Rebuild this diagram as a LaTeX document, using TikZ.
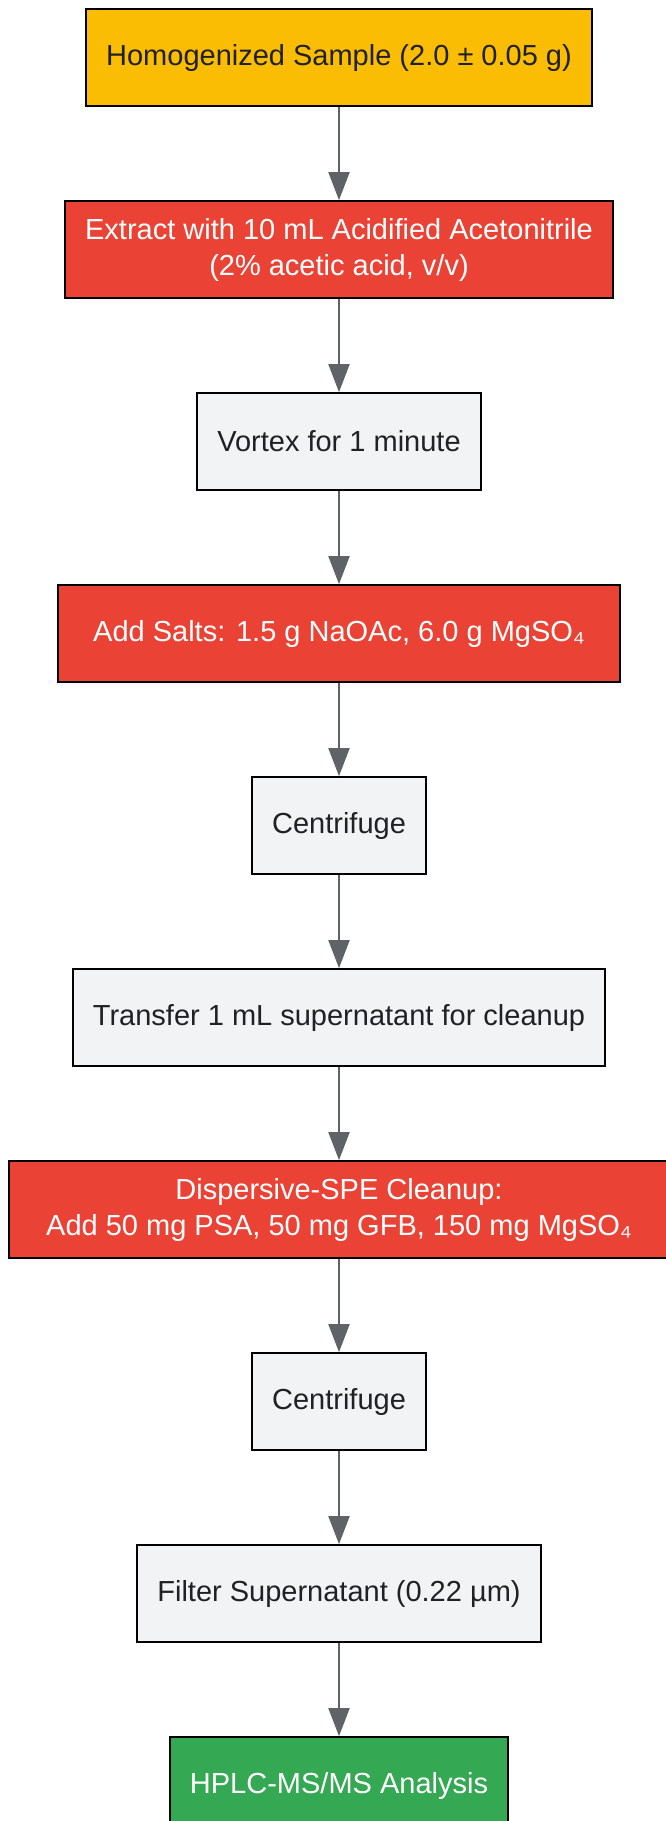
\documentclass[tikz,border=0pt]{standalone}
\usepackage{fontspec}
\setmainfont{Liberation Sans}
\usetikzlibrary{arrows.meta}
\usetikzlibrary{positioning}
\definecolor{stepyellow}{HTML}{FBBC04}
\definecolor{stepred}{HTML}{EA4335}
\definecolor{stepgreen}{HTML}{34A853}
\definecolor{stepgray}{HTML}{F1F3F4}
\definecolor{inkdark}{HTML}{202124}
\definecolor{flowgray}{HTML}{5F6368}

\begin{document}
\begin{tikzpicture}[x=0.5pt,y=-0.5pt,node distance=46.65pt,
  box/.style={draw=black,line width=1.1pt,minimum height=48.25pt,inner xsep=10pt,align=center,font=\fontsize{14.5}{18}\selectfont,text=inkdark},
  plainbox/.style={box,fill=stepgray},
  redbox/.style={box,fill=stepred,text=white},
  flow/.style={draw=flowgray,line width=1pt,-{Triangle[width=10.5pt,length=14pt]}}]
\useasboundingbox (0,0) rectangle (665,1821);
\node[box,fill=stepyellow] (sample) at (339,57.5) {Homogenized Sample (2.0 ± 0.05 g)};
\node[redbox,below=of sample] (extract) {Extract with 10 mL Acidified Acetonitrile\\(2\% acetic acid, v/v)};
\node[plainbox,below=of extract] (vortex) {Vortex for 1 minute};
\node[redbox,minimum width=281pt,below=of vortex] (salts) {Add Salts: 1.5 g NaOAc, 6.0 g MgSO₄};
\node[plainbox,below=of salts] (spin1) {Centrifuge};
\node[plainbox,below=of spin1] (transfer) {Transfer 1 mL supernatant for cleanup};
\node[redbox,minimum width=330pt,below=of transfer] (dspe) {Dispersive-SPE Cleanup:\\Add 50 mg PSA, 50 mg GFB, 150 mg MgSO₄};
\node[plainbox,below=of dspe] (spin2) {Centrifuge};
\node[plainbox,below=of spin2] (filter) {Filter Supernatant (0.22 µm)};
\node[box,fill=stepgreen,text=white,below=of filter] (hplc) {HPLC-MS/MS Analysis};
\foreach \a/\b in {sample/extract,extract/vortex,vortex/salts,salts/spin1,spin1/transfer,transfer/dspe,dspe/spin2,spin2/filter,filter/hplc}
  \draw[flow] (\a) -- (\b);
\end{tikzpicture}
\end{document}
